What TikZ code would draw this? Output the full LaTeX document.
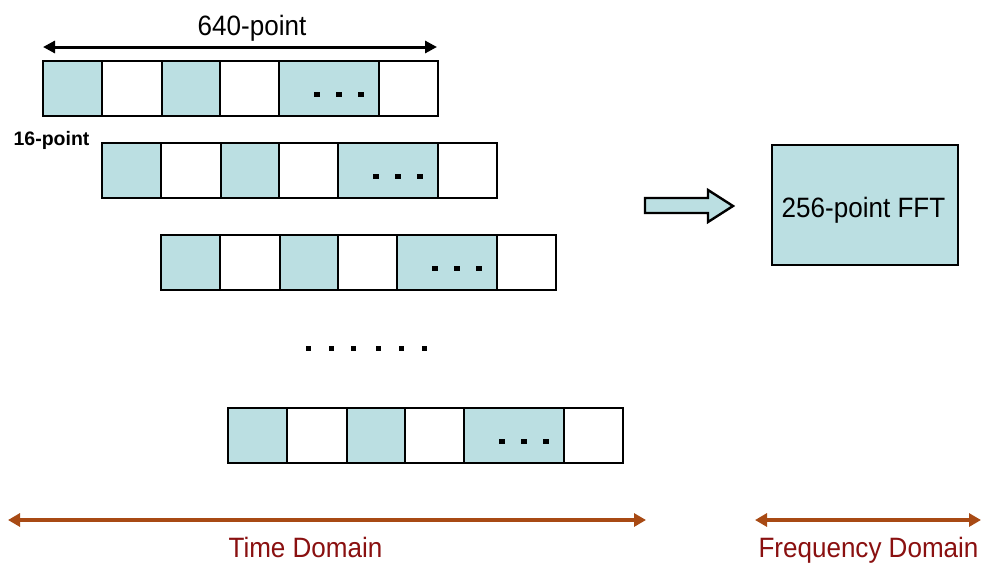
\documentclass[tikz,border=0pt]{standalone}
\usepackage{fontspec}
\setmainfont{Liberation Sans}
\usetikzlibrary{arrows.meta}
\definecolor{cellfill}{HTML}{BBDFE2}
\definecolor{axiscol}{HTML}{A84A14}
\definecolor{labcol}{HTML}{8A1010}
\newcommand{\condtext}[1]{\scalebox{0.93}[1]{#1}}
\begin{document}
\begin{tikzpicture}[x=1pt,y=-1pt,
  cellbox/.style={draw=black,line width=2.8pt,minimum height=55pt,inner sep=0pt,outer sep=0pt,anchor=north west},
  shaded/.style={cellbox,fill=cellfill},
  bigtext/.style={font=\fontsize{28}{32}\selectfont,inner sep=0pt},
  axis/.style={draw=axiscol,line width=3.8pt,{Triangle[length=12pt,width=13pt]}-{Triangle[length=12pt,width=13pt]}},
  axislabel/.style={text=labcol,bigtext,anchor=base},
  dot/.style={fill=black}]
\fill[white] (0,0) rectangle (984,563);
\useasboundingbox (0,0) rectangle (984,563);
% rows of cells
\foreach \r/\xs/\ys in {1/43/61, 2/102/143, 3/161/235, 4/228/408} {
  \node[shaded,minimum width=59pt] (r\r c1) at (\xs,\ys) {};
  \node[cellbox,minimum width=60pt] (r\r c2) at (r\r c1.north east) {};
  \node[shaded,minimum width=58pt] (r\r c3) at (r\r c2.north east) {};
  \node[cellbox,minimum width=59pt] (r\r c4) at (r\r c3.north east) {};
  \node[shaded,minimum width=100pt] (r\r c5) at (r\r c4.north east) {};
  \node[cellbox,minimum width=59pt] (r\r c6) at (r\r c5.north east) {};
  \foreach \d in {35,57,79} {
    \fill[dot] ([xshift=\d pt,yshift=-30.5pt]r\r c5.north west) rectangle ++(5.5,5.5);
  }
}
% vertical ellipsis between rows
\foreach \x in {308,331,353,378,401,424} {
  \fill[dot] (\x-2.5,345.5) rectangle ++(5.5,5.5);
}
% 640-point arrow
\node[bigtext,anchor=base] (lab640) at (252,35) {\condtext{640-point}};
\coordinate (a640l) at (43,47);
\coordinate (a640r) at (437,47);
\draw[line width=3pt,{Triangle[length=12pt,width=12pt]}-{Triangle[length=12pt,width=12pt]}] (a640l) -- (a640r);
% 16-point label
\node[font=\bfseries\fontsize{19.5}{22}\selectfont,anchor=base,inner sep=0pt] (lab16) at (51.5,145) {16-point};
% block arrow
\filldraw[fill=cellfill,draw=black,line width=2.4pt,line join=miter]
  (645,198) -- (708,198) -- (708,190) -- (733,206) -- (708,222) -- (708,213) -- (645,213) -- cycle;
% FFT box
\node[draw=black,line width=2.8pt,fill=cellfill,minimum width=186pt,minimum height=120pt,inner sep=0pt] (fft) at (865,205) {};
\node[bigtext,anchor=base] (fftlab) at (863.5,217) {\condtext{256-point FFT}};
% domain axes
\coordinate (tl) at (8,520);
\coordinate (tr) at (646,520);
\draw[axis] (tl) -- (tr);
\node[axislabel] (timelab) at (305.5,557) {\condtext{Time Domain}};
\coordinate (fl) at (755,520);
\coordinate (fr) at (981,520);
\draw[axis] (fl) -- (fr);
\node[axislabel] (freqlab) at (868.5,557) {\condtext{Frequency Domain}};
\end{tikzpicture}
\end{document}
